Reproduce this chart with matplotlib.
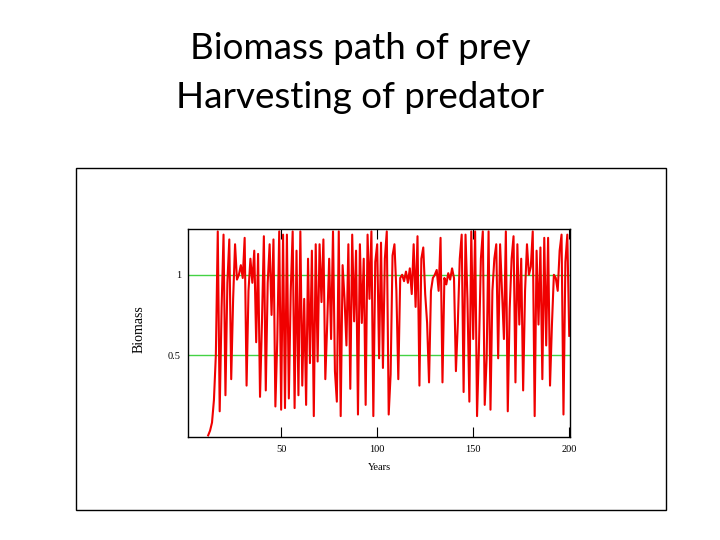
import matplotlib
matplotlib.use("Agg")
import matplotlib.pyplot as plt
from matplotlib.patches import Rectangle

# ---- data ----
title_lines = ["Biomass path of prey", "Harvesting of predator"]
x_label = "Years"
y_label = "Biomass"
x_ticks = [50, 100, 150, 200]
x_ticklabels = ["50", "100", "150", "200"]
y_ticks = [0.5, 1.0]
y_ticklabels = ["0.5", "1"]

start_year = 12
biomass = [
    0.00, 0.03, 0.08, 0.22, 0.50, 1.27, 0.15, 0.80,                 # 12-19
    1.25, 0.25, 0.95, 1.22, 0.35, 0.85, 1.19, 0.97, 1.00, 1.06,     # 20-29
    0.98, 1.23, 0.31, 0.90, 1.10, 0.95, 1.15, 0.58, 1.13, 0.24,     # 30-39
    0.70, 1.24, 0.28, 0.95, 1.19, 0.75, 1.22, 0.18, 0.60, 1.27,     # 40-49
    0.16, 1.25, 0.17, 1.25, 0.23, 0.90, 1.27, 0.17, 1.15, 0.25,     # 50-59
    1.27, 0.31, 0.85, 0.19, 1.10, 0.45, 1.15, 0.12, 1.19, 0.46,     # 60-69
    1.19, 0.83, 1.22, 0.35, 0.70, 1.10, 0.60, 1.27, 0.40, 0.21,     # 70-79
    1.27, 0.12, 1.06, 0.85, 0.56, 1.19, 0.29, 1.25, 0.71, 1.15,     # 80-89
    0.13, 1.19, 0.70, 1.10, 0.19, 1.25, 0.85, 1.27, 0.12, 1.08,     # 90-99
    1.19, 0.48, 1.20, 0.42, 1.10, 1.27, 0.13, 0.38, 1.12, 1.19,     # 100-109
    0.90, 0.35, 0.98, 1.00, 0.96, 1.02, 0.95, 1.04, 0.88, 1.19,     # 110-119
    0.80, 1.24, 0.31, 1.10, 1.17, 0.88, 0.70, 0.33, 0.90, 0.98,     # 120-129
    1.00, 1.03, 0.90, 1.23, 0.33, 0.98, 0.94, 1.01, 0.97, 1.04,     # 130-139
    0.98, 0.40, 0.70, 1.10, 1.25, 0.27, 1.25, 0.85, 0.21, 1.27,     # 140-149
    0.60, 1.27, 0.12, 0.55, 1.10, 1.27, 0.19, 0.48, 1.27, 0.16,     # 150-159
    0.90, 1.10, 1.19, 0.48, 1.19, 0.90, 0.60, 1.27, 0.15, 0.79,     # 160-169
    1.10, 1.24, 0.33, 1.19, 0.69, 1.10, 0.28, 0.90, 1.19, 1.00,     # 170-179
    1.05, 1.27, 0.12, 1.15, 0.69, 1.17, 0.35, 1.23, 0.56, 1.23,     # 180-189
    0.31, 0.69, 1.00, 0.98, 0.90, 1.15, 1.25, 0.13, 1.08, 1.25,     # 190-199
    0.62,                                                           # 200
]
years = list(range(start_year, start_year + len(biomass)))

# ---- figure ----
W, H = 720, 540
fig = plt.figure(figsize=(7.2, 5.4), dpi=100)
fig.patch.set_facecolor("white")

# titles
title_family = ["Lato", "DejaVu Sans"]
fig.text(0.5, 1 - 59 / H, title_lines[0], ha="center", va="baseline",
         fontsize=26.5, family=title_family, color="black")
fig.text(0.5, 1 - 108 / H, title_lines[1], ha="center", va="baseline",
         fontsize=26.5, family=title_family, color="black")

# outer frame
box_l, box_r, box_t, box_b = 76, 666, 168, 510
fig.patches.append(Rectangle((box_l / W, 1 - box_b / H), (box_r - box_l) / W,
                             (box_b - box_t) / H, transform=fig.transFigure,
                             fill=False, edgecolor="black", linewidth=1.0))

# axes
ax_l, ax_r, ax_t, ax_b = 188, 570, 229, 437
ax = fig.add_axes([ax_l / W, 1 - ax_b / H, (ax_r - ax_l) / W, (ax_b - ax_t) / H])
ax.set_facecolor("white")

for yv in y_ticks:
    ax.axhline(yv, color="#44d244", linewidth=1.0, zorder=1)

ax.plot(years, biomass, color="#f00000", linewidth=1.5, zorder=2)

ax.set_xlim(1.5, 200.4)
ax.set_ylim(-0.01, 1.285)

serif = ["Liberation Serif", "DejaVu Serif"]
ax.set_xticks(x_ticks)
ax.set_xticklabels(x_ticklabels, family=serif, fontsize=7.5)
ax.set_yticks(y_ticks)
ax.set_yticklabels(y_ticklabels, family=serif, fontsize=7.5)
ax.tick_params(axis="x", direction="in", length=7, width=0.8, top=True,
               pad=6, colors="black")
ax.tick_params(axis="y", length=0, pad=5)

ax.set_xlabel(x_label, family=serif, fontsize=7.5)
ax.xaxis.set_label_coords(0.5, -0.125)
ax.set_ylabel(y_label, family=serif, fontsize=10)
ax.yaxis.set_label_coords(-0.11, 0.52)

for s in ax.spines.values():
    s.set_linewidth(1.0)
    s.set_color("black")

fig.savefig("out.png", dpi=100, facecolor="white")
